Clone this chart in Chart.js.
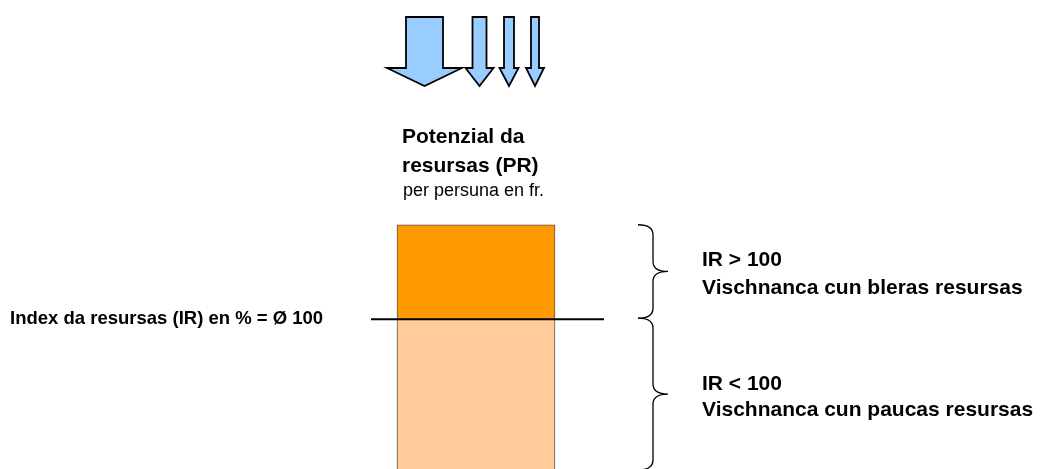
<!DOCTYPE html>
<html>
<head>
<meta charset="utf-8">
<script src="https://cdn.jsdelivr.net/npm/chart.js@4.4.1/dist/chart.umd.min.js"></script>
<style>
    html, body { margin: 0; padding: 0; background: #fff; }
    #wrap { position: relative; width: 1041px; height: 469px; overflow: hidden; font-family: Arial, "Liberation Sans", sans-serif; color: #000; }
    #chart { position: absolute; left: 0; top: 0; }
    .lbl { position: absolute; white-space: nowrap; line-height: 1; }
    .b { font-weight: bold; font-size: 21px; }
</style>
</head>
<body>
<div id="wrap">
    <canvas id="chart" width="1041" height="469"></canvas>
    <div class="lbl b" style="left:402px; top:125px;">Potenzial da</div>
    <div class="lbl b" style="left:402px; top:154px;">resursas (PR)</div>
    <div class="lbl" style="left:403px; top:181px; font-size:18px;">per persuna en fr.</div>
    <div class="lbl b" style="left:10px; top:309px; font-size:18.5px;">Index da resursas (IR) en % = Ø 100</div>
    <div class="lbl b" style="left:702px; top:248px;">IR &gt; 100</div>
    <div class="lbl b" style="left:702px; top:276px;">Vischnanca cun bleras resursas</div>
    <div class="lbl b" style="left:702px; top:372px;">IR &lt; 100</div>
    <div class="lbl b" style="left:702px; top:398px;">Vischnanca cun paucas resursas</div>
</div>
<script>
// ========== DATA ==========
const categories = ['PR'];
const belowAverage = [100];   // part of the potential up to the average (IR = 100)
const aboveAverage = [63];    // part above the average
const averageIndex = 100;
const axisMax = 313;

// ========== DECORATION PLUGIN ==========
// average line, braces and the arrows above the bar
const decorations = {
    id: 'decorations',
    afterDatasetsDraw(chart) {
        const ctx = chart.ctx;
        const y = chart.scales.y;
        const bar = chart.getDatasetMeta(1).data[0];
        const left = bar.x - bar.width / 2;
        const right = bar.x + bar.width / 2;
        const yAvg = y.getPixelForValue(averageIndex);
        const yTop = y.getPixelForValue(belowAverage[0] + aboveAverage[0]);
        const yBottom = chart.chartArea.bottom;

        ctx.save();

        // average line
        ctx.strokeStyle = '#000';
        ctx.lineWidth = 2;
        ctx.beginPath();
        ctx.moveTo(left - 26, yAvg);
        ctx.lineTo(right + 49, yAvg);
        ctx.stroke();

        // braces
        ctx.lineWidth = 1.3;
        drawBrace(ctx, right + 83, yTop, yAvg - 1);
        drawBrace(ctx, right + 83, yAvg - 1, yBottom + 1);

        // arrows
        ctx.fillStyle = '#99ccff';
        ctx.strokeStyle = '#000';
        ctx.lineWidth = 1.8;
        drawArrow(ctx, 424.5, 17, 68, 86, 18.5, 37.5);
        drawArrow(ctx, 479.5, 17, 68, 86, 7, 14);
        drawArrow(ctx, 509, 17, 68, 86, 5, 9.5);
        drawArrow(ctx, 535, 17, 68, 86, 4, 9);

        ctx.restore();
    }
};

function drawBrace(ctx, x, y1, y2) {
    const mid = (y1 + y2) / 2;
    const w = 15;
    ctx.beginPath();
    ctx.moveTo(x, y1);
    ctx.quadraticCurveTo(x + w, y1, x + w, y1 + 10);
    ctx.lineTo(x + w, mid - 10);
    ctx.quadraticCurveTo(x + w, mid, x + 2 * w, mid);
    ctx.quadraticCurveTo(x + w, mid, x + w, mid + 10);
    ctx.lineTo(x + w, y2 - 10);
    ctx.quadraticCurveTo(x + w, y2, x, y2);
    ctx.stroke();
}

function drawArrow(ctx, cx, top, headY, tipY, shaftHalf, headHalf) {
    ctx.beginPath();
    ctx.moveTo(cx - shaftHalf, top);
    ctx.lineTo(cx + shaftHalf, top);
    ctx.lineTo(cx + shaftHalf, headY);
    ctx.lineTo(cx + headHalf, headY);
    ctx.lineTo(cx, tipY);
    ctx.lineTo(cx - headHalf, headY);
    ctx.lineTo(cx - shaftHalf, headY);
    ctx.closePath();
    ctx.fill();
    ctx.stroke();
}

// ========== CHART ==========
new Chart(document.getElementById('chart'), {
    type: 'bar',
    data: {
        labels: categories,
        datasets: [
            {
                label: 'IR < 100',
                data: belowAverage,
                backgroundColor: '#ffcc99',
                borderColor: '#555555',
                borderWidth: 1
            },
            {
                label: 'IR > 100',
                data: aboveAverage,
                backgroundColor: '#ff9900',
                borderColor: '#555555',
                borderWidth: 1
            }
        ]
    },
    options: {
        responsive: false,
        animation: false,
        layout: { padding: { left: 0, right: 89, top: 0, bottom: 0 } },
        datasets: { bar: { barThickness: 158 } },
        plugins: { legend: { display: false }, tooltip: { enabled: false } },
        scales: {
            x: { stacked: true, display: false },
            y: { stacked: true, display: false, min: 0, max: axisMax }
        }
    },
    plugins: [decorations]
});
</script>
</body>
</html>
